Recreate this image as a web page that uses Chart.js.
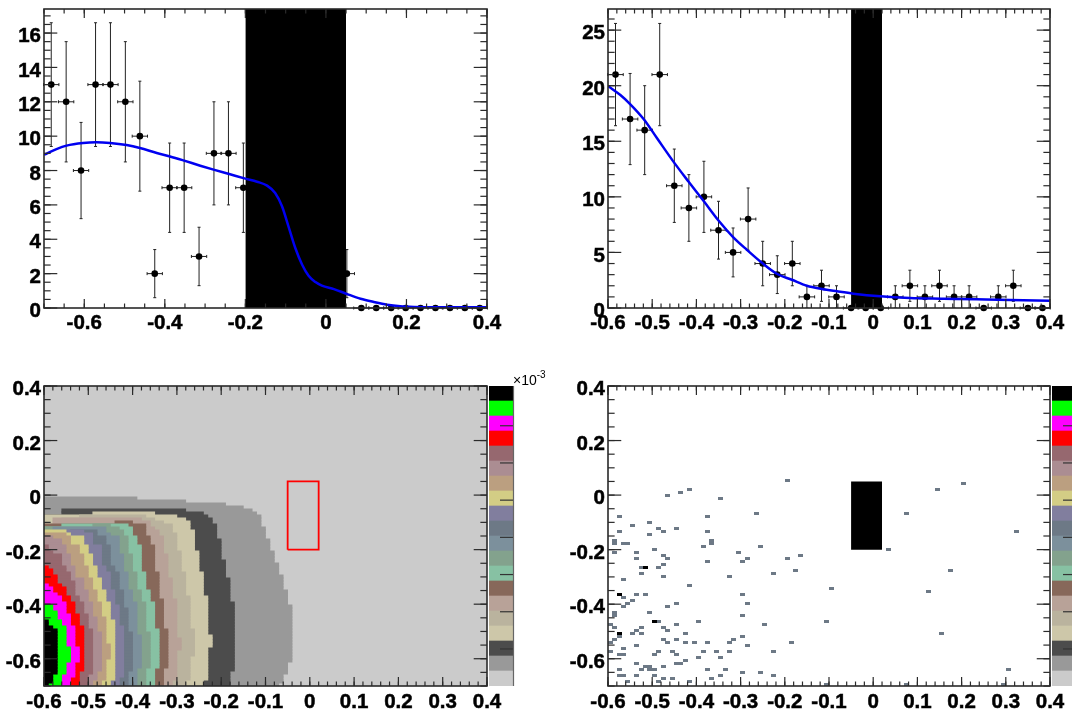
<!DOCTYPE html>
<html>
<head>
<meta charset="utf-8">
<title>fit and 2d maps</title>
<script src="https://cdn.jsdelivr.net/npm/chart.js@4/dist/chart.umd.min.js"></script>
<style>
  html, body { margin: 0; padding: 0; background: #fff; width: 1072px; height: 714px; overflow: hidden; }
  canvas { position: absolute; }
  #expo { position: absolute; left: 513px; top: 372px; font: 14px "Liberation Sans", sans-serif; color: #000; }
  #expo sup { font-size: 10px; position: relative; top: -2px; vertical-align: top; line-height: 10px; }
</style>
</head>
<body>
<canvas id="fitLeft" width="530" height="340" style="left:0;top:0"></canvas>
<canvas id="fitRight" width="512" height="340" style="left:560px;top:0"></canvas>
<canvas id="mapLeft" width="530" height="354" style="left:0;top:360px"></canvas>
<canvas id="mapRight" width="512" height="354" style="left:560px;top:360px"></canvas>
<canvas id="palLeft" width="50" height="326" style="left:480px;top:360px"></canvas>
<canvas id="palRight" width="50" height="326" style="left:1043px;top:360px"></canvas>
<div id="expo">×10<sup>-3</sup></div>
<script>
// top left histogram, bins under the black band are not visible
const leftBins = [-0.682, -0.645, -0.608, -0.572, -0.535, -0.498, -0.462, -0.425, -0.388, -0.352, -0.315, -0.278, -0.242, -0.205,
  -0.168, -0.132, -0.095, -0.058, -0.022, 0.015, 0.052, 0.088, 0.125, 0.162, 0.198, 0.235, 0.272, 0.308, 0.345, 0.382];
const leftCounts = [13, 12, 8, 13, 13, 12, 10, 2, 7, 7, 3, 9, 9, 7,
  null, null, null, null, null, null, 2, 0, 0, 0, 0, 0, 0, 0, 0, 0];
const leftErrors = [3.6, 3.5, 2.8, 3.6, 3.6, 3.5, 3.2, 1.4, 2.6, 2.6, 1.7, 3, 3, 2.6,
  null, null, null, null, null, null, 1.4, 0, 0, 0, 0, 0, 0, 0, 0, 0];
const leftBinHalf = 0.019;
const leftBand = [-0.2, 0.05];
const leftCurveX = [-0.7, -0.669, -0.644, -0.603, -0.57, -0.536, -0.495, -0.462, -0.42, -0.387, -0.354, -0.312, -0.279, -0.238, -0.2,
  -0.171, -0.146, -0.126, -0.109, -0.093, -0.076, -0.059, -0.043, -0.026, -0.01, 0.02, 0.053, 0.086, 0.119, 0.152, 0.185, 0.219, 0.268, 0.4];
const leftCurveY = [8.92, 9.25, 9.45, 9.6, 9.64, 9.6, 9.48, 9.31, 9.02, 8.82, 8.59, 8.28, 8.05, 7.78, 7.53,
  7.35, 7.12, 6.69, 5.92, 4.75, 3.49, 2.52, 1.88, 1.51, 1.3, 1.1, 0.81, 0.54, 0.35, 0.19, 0.1, 0.06, 0.04, 0.04];

// top right histogram
const rightBins = [-0.583, -0.55, -0.517, -0.483, -0.45, -0.417, -0.383, -0.35, -0.317, -0.283, -0.25, -0.217, -0.183, -0.15, -0.117,
  -0.083, -0.05, -0.017, 0.017, 0.05, 0.083, 0.117, 0.15, 0.183, 0.217, 0.25, 0.283, 0.317, 0.35, 0.383];
const rightCounts = [21, 17, 16, 21, 11, 9, 10, 7, 5, 8, 4, 3, 4, 1, 2, 1, 0, 0, 0, 1, 2, 1, 2, 1, 1, 0, 1, 2, 0, 0];
const rightErrors = [4.6, 4.1, 4, 4.6, 3.3, 3, 3.2, 2.6, 2.2, 2.8, 2, 1.7, 2, 1, 1.4, 1, 0, 0, 0, 1, 1.4, 1, 1.4, 1, 1, 0, 1, 1.4, 0, 0];
const rightBinHalf = 0.0175;
const rightBand = [-0.05, 0.02];
const rightCurveX = [-0.6, -0.572, -0.55, -0.519, -0.489, -0.452, -0.418, -0.384, -0.35, -0.317, -0.286, -0.251, -0.218, -0.184, -0.15,
  -0.116, -0.082, -0.045, 0.016, 0.083, 0.159, 0.234, 0.31, 0.4];
const rightCurveY = [19.97, 19.16, 18.35, 16.98, 15.27, 13.17, 11.38, 9.64, 7.87, 6.38, 5.24, 4.04, 3.08, 2.54, 2.0,
  1.71, 1.5, 1.29, 1.05, 0.9, 0.84, 0.78, 0.72, 0.66];

// tick labels
const leftXTicks = [-0.6, -0.4, -0.2, 0, 0.2, 0.4];
const leftYTicks = [0, 2, 4, 6, 8, 10, 12, 14, 16];
const rightXTicks = [-0.6, -0.5, -0.4, -0.3, -0.2, -0.1, 0, 0.1, 0.2, 0.3, 0.4];
const rightYTicks = [0, 5, 10, 15, 20, 25];
const mapYTicks = [-0.6, -0.4, -0.2, 0, 0.2, 0.4];
const paletteTicks = [2.47, 4.95, 7.43, 9.91, 12.39, 14.87, 17.35];

// colour levels of the maps, lowest first
const levelColors = ['#cbcbcb', '#999999', '#4c4c4c', '#cdc7a9', '#bab39e', '#b8a298', '#87685a', '#87c1a3', '#83a28d', '#7c909c',
  '#6d7986', '#817e9e', '#d3cd85', '#bb9f80', '#ab8d92', '#96686f', '#ff0000', '#ff00ff', '#00ff00', '#000000'];
const paletteSteps = levelColors.map(() => 1);

// left map: each level as runs of [top row, right column, left column], 100x100 bins
const edge0 = [[100, 100]];
const edge1 = [[63, 21], [62, 32], [61, 41], [60, 45], [59, 47], [58, 48], [57, 49], [53, 50], [49, 51], [45, 52], [41, 53], [37, 54], [32, 55], [27, 56], [8, 55], [4, 54], [1, 53]];
const edge2 = [[59, 32, 4], [58, 36, 4], [57, 37], [56, 38], [54, 39], [49, 40], [42, 41], [36, 42], [28, 43], [5, 42]];
const edge3 = [[58, 25, 11], [57, 30], [56, 32], [55, 33], [52, 34], [45, 35], [38, 36], [30, 37], [17, 38], [13, 37], [2, 36]];
const edge4 = [[57, 23, 8], [56, 25, 4], [55, 27, 4], [54, 29], [51, 30], [45, 31], [38, 32], [30, 33], [19, 34], [10, 33], [2, 32]];
const edge5 = [[56, 22, 2], [55, 24, 2], [53, 25], [52, 26], [50, 27], [44, 28], [36, 29], [29, 30], [16, 31], [12, 30], [2, 29]];
const edge6 = [[55, 20, 16], [54, 23], [50, 24], [47, 25], [38, 26], [29, 27], [19, 28], [6, 27]];
const edge7 = [[54, 19, 4], [53, 20], [50, 21], [47, 22], [38, 23], [32, 24], [28, 25], [19, 26], [6, 25]];
const edge8 = [[54, 15, 11], [53, 17], [52, 18], [50, 19], [44, 20], [38, 21], [32, 22], [28, 23], [18, 24], [6, 23]];
const edge9 = [[53, 14, 2], [51, 15], [50, 17], [44, 18], [38, 19], [32, 20], [28, 21], [17, 22], [6, 21]];
const edge10 = [[52, 12, 6], [50, 14], [47, 15], [40, 16], [38, 17], [32, 18], [26, 19], [18, 20], [5, 19]];
const edge11 = [[52, 9, 5], [51, 11], [47, 13], [40, 14], [38, 15], [32, 16], [27, 17], [20, 18], [3, 17]];
const edge12 = [[52, 5], [51, 6], [50, 9], [47, 10], [44, 11], [40, 12], [36, 13], [32, 14], [28, 15], [22, 16], [2, 15]];
const edge13 = [[51, 5], [50, 6], [47, 8], [44, 9], [40, 10], [36, 11], [32, 12], [28, 13], [23, 14], [14, 15], [9, 14], [2, 13]];
const edge14 = [[50, 2], [49, 4], [47, 5], [44, 6], [40, 7], [36, 9], [32, 10], [28, 11], [23, 12], [18, 13], [5, 12], [2, 11]];
const edge15 = [[47, 1], [45, 2], [44, 4], [40, 5], [38, 6], [35, 7], [30, 8], [28, 9], [24, 10], [19, 11], [4, 10]];
const edge16 = [[40, 1], [39, 2], [37, 3], [34, 4], [33, 5], [30, 6], [28, 7], [24, 8], [20, 9], [5, 8]];
const edge17 = [[34, 1], [33, 2], [31, 3], [30, 4], [28, 5], [24, 6], [20, 7], [13, 8], [8, 7], [3, 6]];
const edge18 = [[27, 2], [25, 3], [22, 4], [20, 5], [13, 6], [8, 5], [4, 4]];
const edge19 = [[22, 1], [20, 2], [19, 3], [4, 2], [1, 1]];
const levelEdges = [edge0, edge1, edge2, edge3, edge4, edge5, edge6, edge7, edge8, edge9, edge10, edge11, edge12, edge13, edge14, edge15, edge16, edge17, edge18, edge19];

// right map: filled bins as [row, columns], same 100x100 binning
const sparseSingle = [
  [68, [40]], [67, [80]], [65, [18, 74]], [64, [16]], [63, [13]], [62, [25]], [57, [33, 67]], [56, [2, 22]], [54, [9]], [53, [5]],
  [52, [11, 15]], [51, [12, 2, 22, 92]], [50, [9]], [48, [1, 23]], [47, [1, 3, 4, 23]], [46, [21, 34]], [45, [10, 63]], [44, [1, 6, 29]],
  [43, [12, 43]], [42, [6, 13, 31, 40]], [41, [22, 30]], [40, [12]], [39, [7, 11]], [38, [42, 77]], [37, [7, 37]], [36, [12, 27]], [35, [3]],
  [33, [18]], [32, [50]], [31, [72]], [30, [6, 8, 30]], [29, [3]], [28, [5]], [27, [4, 15, 31]], [26, [3, 13]], [24, [9, 1]], [23, [1, 30]],
  [21, [11, 20, 49]], [20, [0, 15, 35]], [19, [1, 7, 12]], [18, [6, 13]], [17, [5, 7, 17, 75]], [16, [2, 30]], [15, [1, 12, 15, 28]],
  [14, [0, 13, 17, 19, 22, 27, 41]], [13, [6, 31]], [12, [3]], [11, [0, 11, 14, 21, 24, 27, 37]], [10, [2, 3, 10, 15]], [9, [20, 25]], [8, [17]],
  [7, [6, 15, 16]], [6, [8, 9, 12]], [5, [2, 7, 9, 10, 22, 26, 90]], [4, [30, 34]], [3, [2, 3, 6, 10, 25, 37]], [2, [12, 14, 23]], [1, [4, 11, 18]], [0, [49, 67, 89]]
];
const sparseDouble = [[39, [8]], [30, [2]], [21, [10]], [17, [2]]];
const holeX = [-0.05, 0.02];
const holeY = [-0.2, 0.05];

const labelFont = { family: '"Liberation Sans", Arial, sans-serif', size: 20.5, weight: 'bold' };
const colToX = (c) => -0.6 + c * 0.01;
const rowToY = (r) => -0.7 + r * 0.011;

// expand the step runs of one level into one floating bar per bin row
function levelBars(runs) {
  const bars = [];
  runs.forEach((run, k) => {
    const bottom = k + 1 < runs.length ? runs[k + 1][0] : 0;
    for (let r = bottom; r < run[0]; r++) {
      bars.push({ y: rowToY(r + 0.5), x: [colToX(run[2] || 0), colToX(run[1])] });
    }
  });
  return bars;
}

function cellPoints(rows) {
  const pts = [];
  rows.forEach(([row, cols]) => cols.forEach((c) => pts.push({ x: colToX(c + 0.5), y: rowToY(row + 0.5) })));
  return pts;
}

// small image used as the point style of one bin
function cellImage(color) {
  const c = document.createElement('canvas');
  c.width = 5;
  c.height = 3;
  const g = c.getContext('2d');
  g.fillStyle = color;
  g.fillRect(0, 0, 5, 3);
  return c;
}

function stepList(from, to, step) {
  const out = [];
  const n = Math.round((to - from) / step);
  for (let i = 0; i <= n; i++) out.push(+(from + i * step).toFixed(4));
  return out;
}

// root style frame: ticks pointing inward on all four sides
const frameTicks = {
  id: 'frameTicks',
  afterDraw(chart, args, o) {
    const { ctx, chartArea: a, scales } = chart;
    ctx.save();
    ctx.strokeStyle = '#2a2a2a';
    ctx.lineWidth = 1.2;
    const line = (x0, y0, x1, y1) => { ctx.beginPath(); ctx.moveTo(x0, y0); ctx.lineTo(x1, y1); ctx.stroke(); };
    const xLen = (a.bottom - a.top) * 0.03;
    const yLen = (a.right - a.left) * 0.03;
    const drawX = (v, l) => { const p = scales.x.getPixelForValue(v); line(p, a.bottom, p, a.bottom - l); line(p, a.top, p, a.top + l); };
    const drawY = (v, l) => { const p = scales.y.getPixelForValue(v); line(a.left, p, a.left + l, p); line(a.right, p, a.right - l, p); };
    stepList(o.xFrom, o.xTo, o.xMinor).forEach((v) => drawX(v, xLen / 2));
    o.xMajor.forEach((v) => drawX(v, xLen));
    stepList(o.yFrom, o.yTo, o.yMinor).forEach((v) => drawY(v, yLen / 2));
    o.yMajor.forEach((v) => drawY(v, yLen));
    ctx.lineWidth = 1.6;
    ctx.strokeRect(a.left, a.top, a.right - a.left, a.bottom - a.top);
    ctx.restore();
  }
};

// one small line dataset per error bar, caps come from the line point style
function errorBars(xs, ys, errs, half) {
  const sets = [];
  xs.forEach((x, i) => {
    if (ys[i] === null) return;
    sets.push({ type: 'line', data: [{ x: x - half, y: ys[i] }, { x: x + half, y: ys[i] }], borderColor: '#222', borderWidth: 1,
      pointStyle: 'line', rotation: 90, pointRadius: 1.5, pointBorderColor: '#222', pointBorderWidth: 1, order: 3, clip: false });
    if (errs[i] > 0) {
      sets.push({ type: 'line', data: [{ x: x, y: ys[i] - errs[i] }, { x: x, y: ys[i] + errs[i] }], borderColor: '#222', borderWidth: 1,
        pointStyle: 'line', rotation: 0, pointRadius: 1.5, pointBorderColor: '#222', pointBorderWidth: 1, order: 3 });
    }
  });
  return sets;
}

function axes(xMin, xMax, yMin, yMax, xTicks, yTicks, yWidth, xHeight, pad) {
  return {
    x: {
      type: 'linear', min: xMin, max: xMax, offset: false,
      grid: { display: false, drawTicks: false }, border: { display: false },
      afterBuildTicks: (s) => { s.ticks = xTicks.map((v) => ({ value: v })); },
      afterFit: (s) => { s.height = xHeight; s.paddingLeft = 0; s.paddingRight = 0; },
      ticks: { font: labelFont, color: '#000', textStrokeColor: '#000', textStrokeWidth: 0.5, padding: pad, autoSkip: false, maxRotation: 0, minRotation: 0, callback: (v) => String(v) }
    },
    y: {
      type: 'linear', min: yMin, max: yMax, offset: false,
      grid: { display: false, drawTicks: false }, border: { display: false },
      afterBuildTicks: (s) => { s.ticks = yTicks.map((v) => ({ value: v })); },
      afterFit: (s) => { s.width = yWidth; s.paddingTop = 0; s.paddingBottom = 0; },
      ticks: { font: labelFont, color: '#000', textStrokeColor: '#000', textStrokeWidth: 0.5, padding: 3, labelOffset: 3.5, autoSkip: false, callback: (v) => String(v) }
    }
  };
}

function renderFit(id, cfg) {
  const pointData = cfg.bins.map((x, i) => (cfg.counts[i] === null ? null : { x: x, y: cfg.counts[i] })).filter(Boolean);
  new Chart(document.getElementById(id), {
    type: 'line',
    data: {
      datasets: [
        { data: cfg.curveX.map((x, i) => ({ x: x, y: cfg.curveY[i] })), borderColor: '#0000f0', borderWidth: 2.5, pointRadius: 0, cubicInterpolationMode: 'monotone', order: 0 },
        { data: [{ x: cfg.band[0], y: cfg.yMax }, { x: cfg.band[1], y: cfg.yMax }], borderWidth: 0, pointRadius: 0, backgroundColor: '#000', fill: { value: 0 }, order: 1 },
        { data: pointData, showLine: false, pointRadius: 3.3, pointBackgroundColor: '#000', pointBorderWidth: 0, order: 2, clip: false },
        ...errorBars(cfg.bins, cfg.counts, cfg.errors, cfg.half)
      ]
    },
    options: {
      responsive: false, animation: false,
      layout: { padding: cfg.padding },
      plugins: {
        legend: { display: false }, tooltip: { enabled: false },
        frameTicks: { xMajor: cfg.xTicks, xMinor: cfg.xMinor, xFrom: cfg.xFrom, xTo: 0.4, yMajor: cfg.yTicks, yMinor: cfg.yMinor, yFrom: 0, yTo: cfg.yEnd }
      },
      scales: axes(cfg.xMin, 0.4, 0, cfg.yMax, cfg.xTicks, cfg.yTicks, cfg.yWidth, 32, 3)
    },
    plugins: [frameTicks]
  });
}

function mapFrame() {
  return { xMajor: rightXTicks, xMinor: 0.02, xFrom: -0.6, xTo: 0.4, yMajor: mapYTicks, yMinor: 0.05, yFrom: -0.7, yTo: 0.4 };
}

function renderPalette(id) {
  new Chart(document.getElementById(id), {
    type: 'bar',
    data: {
      labels: ['z'],
      datasets: paletteSteps.map((v, i) => ({ data: [v], backgroundColor: levelColors[i], barPercentage: 1, categoryPercentage: 1 }))
    },
    options: {
      responsive: false, animation: false,
      layout: { padding: { left: 9, right: 17, top: 26, bottom: 0 } },
      plugins: { legend: { display: false }, tooltip: { enabled: false } },
      scales: {
        x: { display: false, stacked: true },
        y: { display: false, stacked: true, min: 0, max: 20 }
      }
    },
    plugins: [{
      id: 'paletteAxis',
      afterDraw(chart) {
        const { ctx, chartArea: a, scales } = chart;
        ctx.save();
        ctx.strokeStyle = '#333';
        ctx.lineWidth = 1.2;
        paletteTicks.forEach((v) => {
          const p = scales.y.getPixelForValue(v);
          ctx.beginPath(); ctx.moveTo(a.right, p); ctx.lineTo(a.right - 13, p); ctx.stroke();
        });
        ctx.strokeStyle = '#666';
        ctx.beginPath(); ctx.moveTo(a.right + 0.5, a.top); ctx.lineTo(a.right + 0.5, a.bottom); ctx.stroke();
        ctx.restore();
      }
    }]
  });
}

renderFit('fitLeft', {
  bins: leftBins, counts: leftCounts, errors: leftErrors, half: leftBinHalf, band: leftBand, curveX: leftCurveX, curveY: leftCurveY,
  xTicks: leftXTicks, yTicks: leftYTicks, xMinor: 0.05, xFrom: -0.7, yMinor: 0.5, yEnd: 17,
  xMin: -0.7, yMax: 17.4, yWidth: 44, padding: { top: 9, right: 43 }
});

renderFit('fitRight', {
  bins: rightBins, counts: rightCounts, errors: rightErrors, half: rightBinHalf, band: rightBand, curveX: rightCurveX, curveY: rightCurveY,
  xTicks: rightXTicks, yTicks: rightYTicks, xMinor: 0.02, xFrom: -0.6, yMinor: 1, yEnd: 26,
  xMin: -0.6, yMax: 26.9, yWidth: 48, padding: { top: 9, right: 22 }
});

new Chart(document.getElementById('mapLeft'), {
  type: 'bar',
  data: {
    datasets: [
      { type: 'line', data: [{ x: holeX[0], y: holeY[0] }, { x: holeX[0], y: holeY[1] }, { x: holeX[1], y: holeY[1] }, { x: holeX[1], y: holeY[0] }, { x: holeX[0], y: holeY[0] }],
        borderColor: '#ff0000', borderWidth: 1.8, pointRadius: 0, order: -1 },
      ...levelEdges.map((runs, i) => ({ data: levelBars(runs), backgroundColor: levelColors[i], grouped: false, barThickness: 3.4, order: 20 - i }))
    ]
  },
  options: {
    responsive: false, animation: false,
    datasets: { bar: { indexAxis: 'y' } },
    layout: { padding: { top: 26, right: 43 } },
    plugins: { legend: { display: false }, tooltip: { enabled: false }, frameTicks: mapFrame() },
    scales: axes(-0.6, 0.4, -0.7, 0.4, rightXTicks, mapYTicks, 44, 28, 4)
  },
  plugins: [frameTicks]
});

new Chart(document.getElementById('mapRight'), {
  type: 'scatter',
  data: {
    datasets: [
      { type: 'line', data: [{ x: holeX[0], y: holeY[1] }, { x: holeX[1], y: holeY[1] }], borderWidth: 0, pointRadius: 0, backgroundColor: '#000', fill: { value: holeY[0] }, order: 2 },
      { data: cellPoints(sparseSingle), pointStyle: cellImage(levelColors[10]), pointRadius: 3, order: 1 },
      { data: cellPoints(sparseDouble), pointStyle: cellImage('#000000'), pointRadius: 3, order: 0 }
    ]
  },
  options: {
    responsive: false, animation: false,
    layout: { padding: { top: 26, right: 22 } },
    plugins: { legend: { display: false }, tooltip: { enabled: false }, frameTicks: mapFrame() },
    scales: axes(-0.6, 0.4, -0.7, 0.4, rightXTicks, mapYTicks, 48, 28, 4)
  },
  plugins: [frameTicks]
});

renderPalette('palLeft');
renderPalette('palRight');
</script>
</body>
</html>
